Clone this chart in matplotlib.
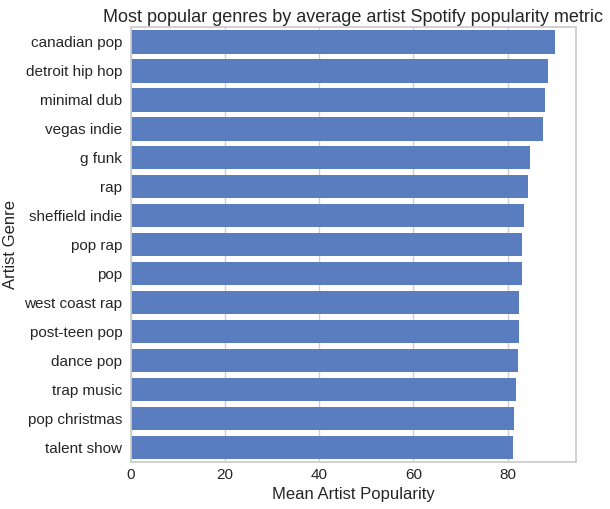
import colorsys
import matplotlib
matplotlib.use("Agg")
import matplotlib.pyplot as plt
import matplotlib.colors as mcolors

genres = ["canadian pop", "detroit hip hop", "minimal dub", "vegas indie", "g funk",
          "rap", "sheffield indie", "pop rap", "pop", "west coast rap",
          "post-teen pop", "dance pop", "trap music", "pop christmas", "talent show"]
popularity = [90.1, 88.6, 87.9, 87.6, 84.8,
              84.4, 83.5, 83.1, 83.1, 82.5,
              82.5, 82.1, 81.8, 81.4, 81.2]

# seaborn muted blue, desaturated like barplot does
r, g, b = mcolors.to_rgb("#4878d0")
h, l, s = colorsys.rgb_to_hls(r, g, b)
bar_color = colorsys.hls_to_rgb(h, l, s * 0.75)

plt.rcParams['font.family'] = ['Liberation Sans', 'DejaVu Sans']
plt.rcParams['text.color'] = '#262626'
plt.rcParams['axes.labelcolor'] = '#262626'
plt.rcParams['xtick.color'] = '#262626'
plt.rcParams['ytick.color'] = '#262626'

fig = plt.figure(figsize=(6.10, 5.09), dpi=100)
ax = fig.add_axes([0.214, 0.092, 0.731, 0.854])

ypos = list(range(len(genres)))
ax.barh(ypos, popularity, height=0.8, color=bar_color, zorder=2)
ax.set_yticks(ypos)
ax.set_yticklabels(genres)
ax.set_ylim(len(genres) - 0.5, -0.5)
ax.set_xlim(0, 94.6)
ax.set_xticks([0, 20, 40, 60, 80])

ax.grid(axis='x', color='#cccccc', linewidth=1, zorder=0)
ax.grid(axis='y', visible=False)
for sp in ax.spines.values():
    sp.set_color('#cccccc')
    sp.set_linewidth(1.25)
ax.tick_params(length=0, labelsize=11)
ax.tick_params(axis='y', pad=6)
ax.tick_params(axis='x', pad=4)

ax.set_xlabel("Mean Artist Popularity", fontsize=12, labelpad=4)
ax.set_ylabel("Artist Genre", fontsize=12, labelpad=4.5)
ax.set_title("Most popular genres by average artist Spotify popularity metric", fontsize=13, pad=4)

fig.savefig("out.png", dpi=100)
